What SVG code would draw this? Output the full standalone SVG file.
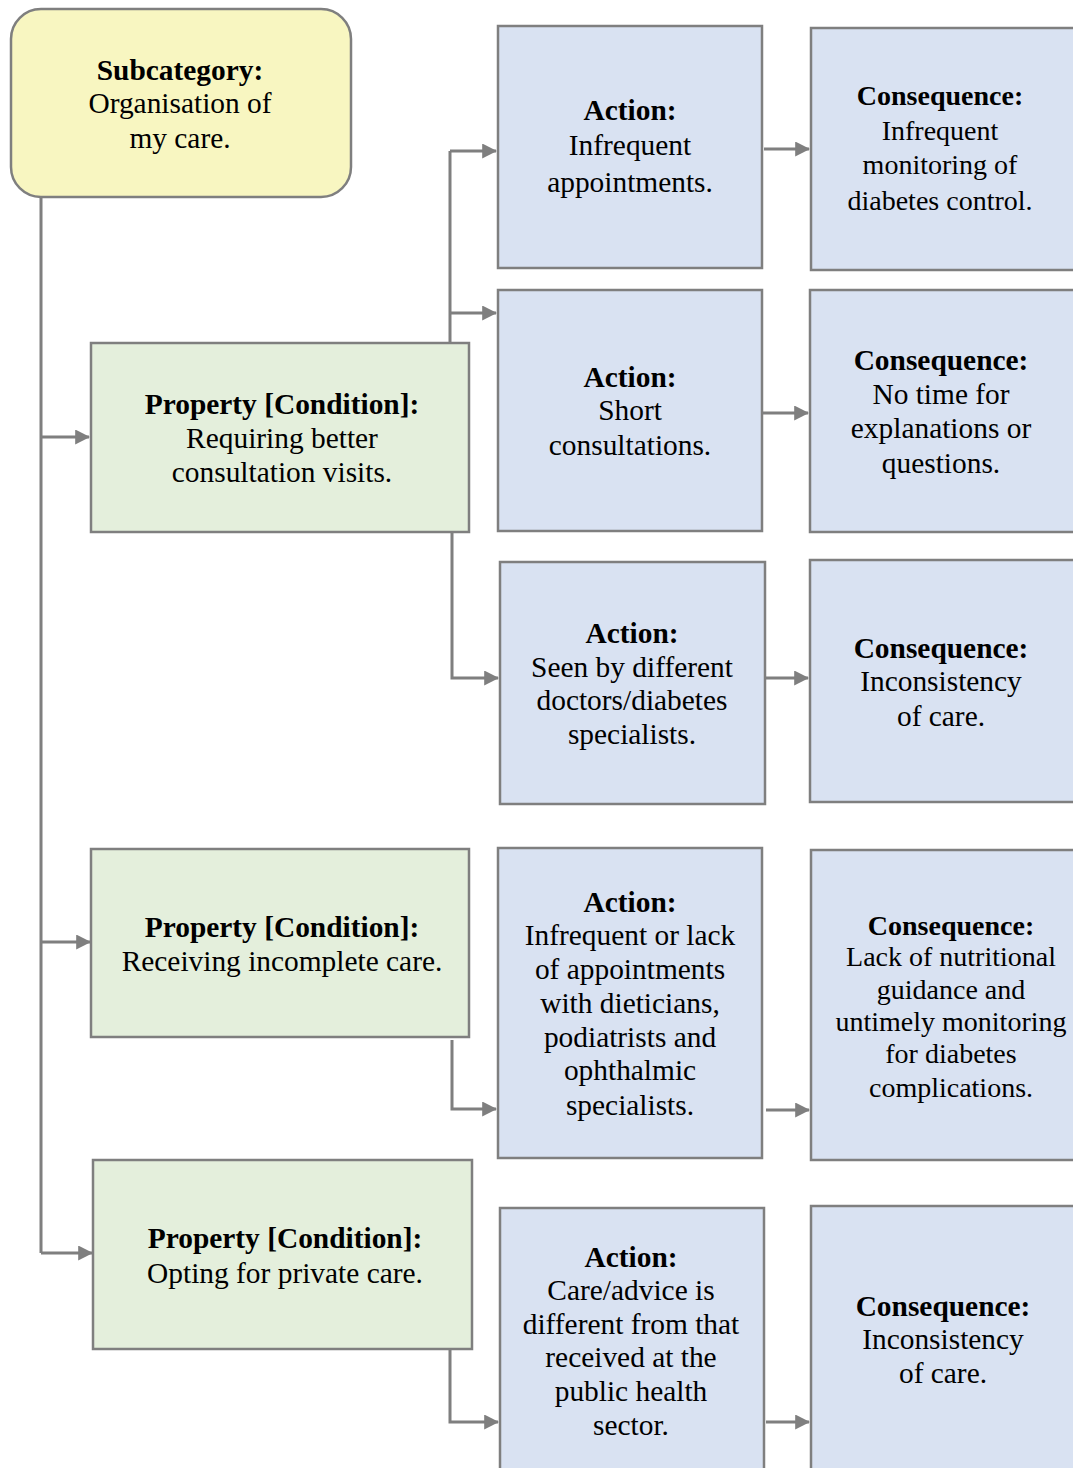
<svg xmlns="http://www.w3.org/2000/svg" width="1073" height="1468" viewBox="0 0 1073 1468">
  <defs>
    <marker id="arrow" markerWidth="5" markerHeight="5" refX="4.6" refY="2.5" orient="auto" markerUnits="strokeWidth">
      <path d="M0,0 L5,2.5 L0,5 Z" fill="#7f7f7f"/>
    </marker>
  </defs>
  <style>
    .box { stroke: #7f7f7f; stroke-width: 2.5; }
    .sub { fill: #f8f6c1; }
    .prop { fill: #e4efdc; }
    .act { fill: #d9e2f2; }
    text { font-family: "Liberation Serif", "Times New Roman", serif; font-size: 29.4px; fill: #000; text-anchor: middle; }
    .b { font-weight: bold; }
    .s { font-size: 28px; }
    .conn { fill: none; stroke: #7f7f7f; stroke-width: 3; }
    .arr { marker-end: url(#arrow); }
  </style>

  <!-- connectors -->
  <g id="connectors">
    <path class="conn" d="M41,197 V1253"/>
    <path class="conn arr" d="M41,437 H89"/>
    <path class="conn arr" d="M41,942 H90"/>
    <path class="conn arr" d="M41,1253 H92"/>

    <path class="conn" d="M450,343 V151"/>
    <path class="conn arr" d="M450,151 H496"/>
    <path class="conn arr" d="M450,313 H496"/>
    <path class="conn arr" d="M452,532 V678 H498"/>
    <path class="conn arr" d="M452,1040 V1109 H496"/>
    <path class="conn arr" d="M450,1350 V1422 H498"/>

    <path class="conn arr" d="M764,149 H809"/>
    <path class="conn arr" d="M763,413 H808"/>
    <path class="conn arr" d="M766,678 H808"/>
    <path class="conn arr" d="M766,1110 H809"/>
    <path class="conn arr" d="M766,1422 H809"/>
  </g>

  <!-- subcategory -->
  <g id="subcategory">
    <rect class="box sub" x="11" y="9" width="340" height="188" rx="30"/>
    <text x="180" y="80" class="b">Subcategory:</text>
    <text x="180" y="113">Organisation of</text>
    <text x="180" y="148">my care.</text>
  </g>

  <!-- properties -->
  <g id="property-1">
    <rect class="box prop" x="91" y="343" width="378" height="189"/>
    <text x="282" y="414" class="b">Property [Condition]:</text>
    <text x="282" y="448">Requiring better</text>
    <text x="282" y="482">consultation visits.</text>
  </g>
  <g id="property-2">
    <rect class="box prop" x="91" y="849" width="378" height="188"/>
    <text x="282" y="937" class="b">Property [Condition]:</text>
    <text x="282" y="971">Receiving incomplete care.</text>
  </g>
  <g id="property-3">
    <rect class="box prop" x="93" y="1160" width="379" height="189"/>
    <text x="285" y="1248" class="b">Property [Condition]:</text>
    <text x="285" y="1283">Opting for private care.</text>
  </g>

  <!-- actions -->
  <g id="action-1">
    <rect class="box act" x="498" y="26" width="264" height="242"/>
    <text x="630" y="120" class="b">Action:</text>
    <text x="630" y="155">Infrequent</text>
    <text x="630" y="192">appointments.</text>
  </g>
  <g id="action-2">
    <rect class="box act" x="498" y="290" width="264" height="241"/>
    <text x="630" y="387" class="b">Action:</text>
    <text x="630" y="420">Short</text>
    <text x="630" y="455">consultations.</text>
  </g>
  <g id="action-3">
    <rect class="box act" x="500" y="562" width="265" height="242"/>
    <text x="632" y="643" class="b">Action:</text>
    <text x="632" y="677">Seen by different</text>
    <text x="632" y="710">doctors/diabetes</text>
    <text x="632" y="744">specialists.</text>
  </g>
  <g id="action-4">
    <rect class="box act" x="498" y="848" width="264" height="310"/>
    <text x="630" y="912" class="b">Action:</text>
    <text x="630" y="945">Infrequent or lack</text>
    <text x="630" y="979">of appointments</text>
    <text x="630" y="1013">with dieticians,</text>
    <text x="630" y="1047">podiatrists and</text>
    <text x="630" y="1080">ophthalmic</text>
    <text x="630" y="1115">specialists.</text>
  </g>
  <g id="action-5">
    <rect class="box act" x="500" y="1208" width="264" height="280"/>
    <text x="631" y="1267" class="b">Action:</text>
    <text x="631" y="1300">Care/advice is</text>
    <text x="631" y="1334">different from that</text>
    <text x="631" y="1367">received at the</text>
    <text x="631" y="1401">public health</text>
    <text x="631" y="1435">sector.</text>
  </g>

  <!-- consequences -->
  <g id="consequence-1">
    <rect class="box act" x="811" y="28" width="280" height="242"/>
    <text x="940" y="105" class="b s">Consequence:</text>
    <text x="940" y="140" class="s">Infrequent</text>
    <text x="940" y="174" class="s">monitoring of</text>
    <text x="940" y="210" class="s">diabetes control.</text>
  </g>
  <g id="consequence-2">
    <rect class="box act" x="810" y="290" width="281" height="242"/>
    <text x="941" y="370" class="b">Consequence:</text>
    <text x="941" y="404">No time for</text>
    <text x="941" y="438">explanations or</text>
    <text x="941" y="473">questions.</text>
  </g>
  <g id="consequence-3">
    <rect class="box act" x="810" y="560" width="281" height="242"/>
    <text x="941" y="658" class="b">Consequence:</text>
    <text x="941" y="691">Inconsistency</text>
    <text x="941" y="726">of care.</text>
  </g>
  <g id="consequence-4">
    <rect class="box act" x="811" y="850" width="280" height="310"/>
    <text x="951" y="935" class="b s">Consequence:</text>
    <text x="951" y="966" class="s">Lack of nutritional</text>
    <text x="951" y="999" class="s">guidance and</text>
    <text x="951" y="1031" class="s">untimely monitoring</text>
    <text x="951" y="1063" class="s">for diabetes</text>
    <text x="951" y="1097" class="s">complications.</text>
  </g>
  <g id="consequence-5">
    <rect class="box act" x="811" y="1206" width="280" height="282"/>
    <text x="943" y="1316" class="b">Consequence:</text>
    <text x="943" y="1349">Inconsistency</text>
    <text x="943" y="1383">of care.</text>
  </g>
</svg>
